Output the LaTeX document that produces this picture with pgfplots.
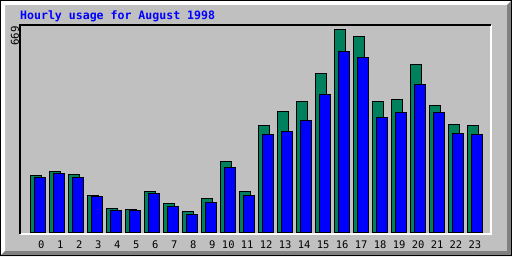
\documentclass[border=0pt]{standalone}
\usepackage{pgfplots}
\pgfplotsset{compat=1.18}
\usepackage{pgfplotstable}
\usepackage{fontspec}
\newfontfamily\mono{DejaVu Sans Mono}
\definecolor{bg}{HTML}{C0C0C0}
\definecolor{hits}{HTML}{00805C}
\definecolor{files}{HTML}{0000FF}
\definecolor{dk}{HTML}{808080}
\pgfplotstableread{
hour hits files
0 188 181
1 201 194
2 191 181
3 122 119
4 79 73
5 76 73
6 135 129
7 96 86
8 69 59
9 112 99
10 234 214
11 135 122
12 353 321
13 399 333
14 432 369
15 524 455
16 669 597
17 646 577
18 432 379
19 438 396
20 554 488
21 419 396
22 356 326
23 353 321
}\data
\begin{document}
\begin{tikzpicture}[x=1bp,y=1bp]
\useasboundingbox (0,0) rectangle (512,256);
\fill[bg] (0,0) rectangle (512,256);
\fill[white] (0,256) -- (512,256) -- (507,251) -- (5,251) -- (5,5) -- (0,0) -- cycle;
\fill[dk] (512,256) -- (512,0) -- (0,0) -- (5,5) -- (507,5) -- (507,251) -- cycle;
\draw[black, line width=1bp] (0.5,0.5) rectangle (511.5,255.5);
\begin{axis}[name=ax, at={(20bp,22bp)}, anchor=south west, scale only axis,
  width=471bp, height=209bp,
  xmin=-0.542, xmax=24.247, ymin=-5.6, ymax=683.3,
  axis line style={draw=none}, ytick=\empty,
  xtick={0.58,1.58,2.58,3.58,4.58,5.58,6.58,7.58,8.58,9.58,10.42,11.41,12.41,13.41,14.41,15.41,16.41,17.41,18.41,19.41,20.41,21.41,22.40,23.40},
  xticklabels={0,1,2,3,4,5,6,7,8,9,10,11,12,13,14,15,16,17,18,19,20,21,22,23},
  major tick length=0pt,
  xticklabel style={font=\mono\fontsize{10.5}{12}\selectfont, anchor=base, yshift=-14.7bp, inner sep=0pt},
  ybar, bar width=0.56, clip=false]
\addplot[fill=hits, draw=black, line width=1bp, bar shift=0.2975] table[x=hour,y=hits]{\data};
\addplot[fill=files, draw=black, line width=1bp, bar shift=0.508] table[x=hour,y=files]{\data};
\end{axis}
\draw[white, line width=1.5bp] (ax.south west) -| (ax.north east);
\draw[black, line width=1.5bp] (ax.south west) |- (ax.north east);
\node[anchor=base west, inner sep=0pt, text=files, font=\mono\bfseries\fontsize{11.6}{12}\selectfont] at (20,237) {Hourly usage for August 1998};
\node[rotate=90, inner sep=0pt, font=\mono\fontsize{10.8}{12}\selectfont] at (15,220.2) {669};
\end{tikzpicture}
\end{document}
